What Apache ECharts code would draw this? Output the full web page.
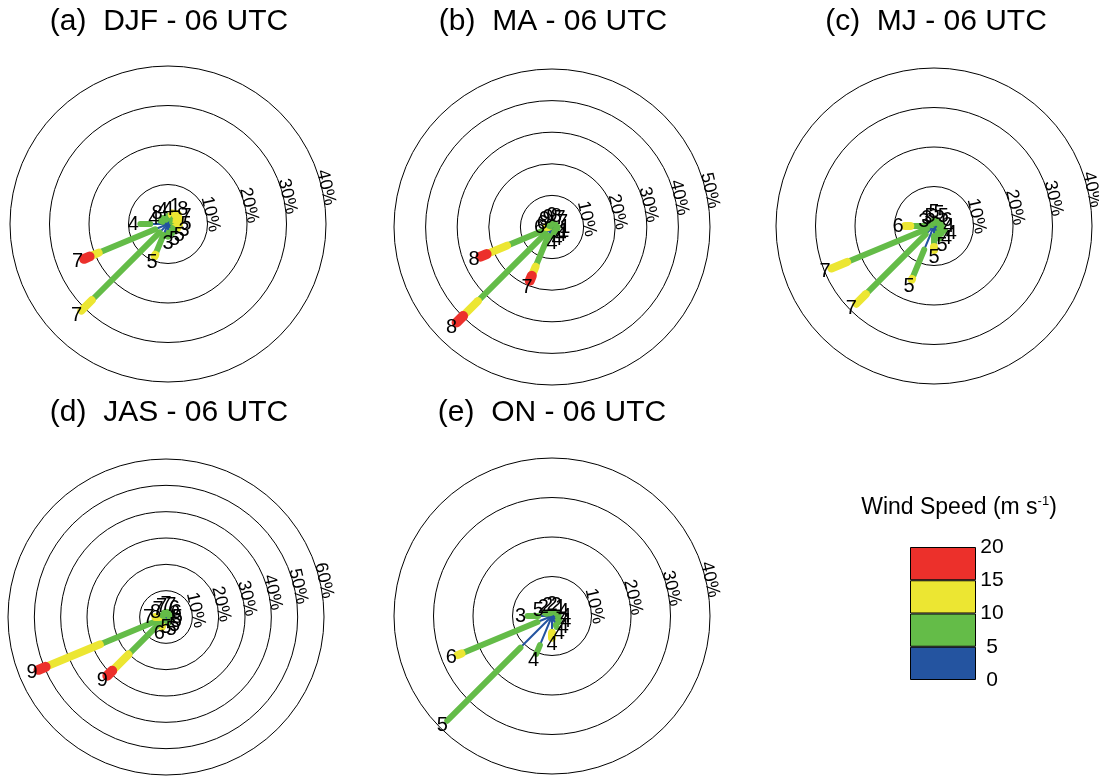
<!DOCTYPE html>
<html><head><meta charset="utf-8">
<script src="https://cdn.jsdelivr.net/npm/echarts@6/dist/echarts.min.js"></script>
<style>html,body{margin:0;padding:0;background:#fff}#c{width:1099px;height:776px}</style>
</head><body><div id="c"></div>
<script>
// ---------------- DATA ----------------
const panelTitles = ['(a)  DJF - 06 UTC', '(b)  MA - 06 UTC', '(c)  MJ - 06 UTC', '(d)  JAS - 06 UTC', '(e)  ON - 06 UTC'];
const speedBins = [0, 5, 10, 15, 20];
const ringsDJF = [10, 20, 30, 40];
const ringsMA = [10, 20, 30, 40, 50];
const ringsMJ = [10, 20, 30, 40];
const ringsJAS = [10, 20, 30, 40, 50, 60];
const ringsON = [10, 20, 30, 40];
// rows: [direction(deg), % 0-5, % 5-10, % 10-15, % 15-20, label]
const petalsDJF = [
  [0, 1.2, 0.8, 0, 0, 4], [22.5, 1.5, 1.0, 0.4, 0, 1], [45, 1.5, 1.4, 0.6, 0, 8], [67.5, 1.2, 1.2, 0.8, 0, 7],
  [90, 1.0, 1.0, 0.8, 0, 5], [112.5, 1.0, 1.0, 0.6, 0, 3], [135, 1.5, 0.8, 0, 0, 5], [157.5, 1.8, 0.8, 0, 0, 5],
  [180, 2.2, 1.0, 0, 0, 3], [202.5, 3.0, 5.4, 0.4, 0, 5], [225, 3.0, 24.3, 3.7, 0, 7], [247.5, 3.5, 15.5, 2.5, 1.5, 7],
  [270, 4.5, 2.5, 0, 0, 4], [292.5, 1.5, 0.6, 0, 0, 4], [315, 1.5, 0.6, 0, 0, 8], [337.5, 1.2, 0.6, 0, 0, 4]
];
const petalsMA = [
  [0, 0.8, 0.5, 0, 0, 9], [22.5, 0.8, 0.5, 0, 0, 8], [45, 0.8, 0.6, 0, 0, 7], [67.5, 0.8, 0.6, 0, 0, 7],
  [90, 1.0, 0.8, 0, 0, 1], [112.5, 1.0, 0.8, 0, 0, 1], [135, 1.0, 0.8, 0, 0, 4], [157.5, 1.2, 0.8, 0, 0, 4],
  [180, 1.5, 1.5, 0, 0, 4], [202.5, 3.0, 10.6, 3.1, 1.7, 7], [225, 3.0, 30.2, 6.6, 2.9, 8], [247.5, 2.5, 12.9, 7.0, 2.1, 8],
  [270, 0.6, 0.6, 0.5, 0, 6], [292.5, 0.6, 0.5, 0, 0, 6], [315, 0.6, 0.5, 0, 0, 9], [337.5, 0.6, 0.5, 0, 0, 9]
];
const petalsMJ = [
  [0, 1.0, 0.6, 0, 0, 5], [22.5, 1.0, 0.6, 0, 0, 5], [45, 1.0, 0.6, 0, 0, 5], [67.5, 1.0, 0.8, 0, 0, 6],
  [90, 1.2, 0.8, 0, 0, 4], [112.5, 1.5, 1.5, 0, 0, 4], [135, 1.5, 1.2, 0, 0, 4], [157.5, 2.0, 1.5, 0, 0, 5],
  [180, 2.5, 2.8, 0.8, 0, 5], [202.5, 6.5, 8.0, 0.2, 0, 5], [225, 3.0, 21.4, 3.4, 0, 7], [247.5, 2.0, 21.8, 4.3, 0, 7],
  [270, 1.5, 4.5, 1.3, 0, 6], [292.5, 0.6, 0.4, 0, 0, 3], [315, 0.5, 0.3, 0, 0, 3], [337.5, 0.6, 0.3, 0, 0, 5]
];
const petalsJAS = [
  [0, 1.2, 0.8, 0, 0, 7], [22.5, 1.2, 0.8, 0, 0, 7], [45, 1.0, 0.8, 0, 0, 6], [67.5, 1.0, 0.6, 0, 0, 6],
  [90, 1.0, 0.6, 0, 0, 5], [112.5, 1.0, 0.6, 0, 0, 5], [135, 1.2, 0.8, 0, 0, 5], [157.5, 1.5, 1.0, 0, 0, 5],
  [180, 0.8, 0.4, 0, 0, 5], [202.5, 2.0, 1.8, 0.3, 0, 6], [225, 2.0, 18.2, 8.7, 2.6, 9], [247.5, 2.0, 25.2, 22.3, 2.9, 9],
  [270, 1.0, 1.5, 1.5, 0, 7], [292.5, 0.8, 0.8, 0, 0, 8], [315, 0.8, 0.8, 0, 0, 7], [337.5, 1.0, 0.8, 0, 0, 7]
];
const petalsON = [
  [0, 0.8, 0.3, 0, 0, 2], [22.5, 0.8, 0.3, 0, 0, 2], [45, 1.0, 0.3, 0, 0, 1], [67.5, 1.0, 0.4, 0, 0, 4],
  [90, 1.2, 0.5, 0, 0, 4], [112.5, 1.5, 0.5, 0, 0, 4], [135, 1.8, 0.5, 0, 0, 4], [157.5, 2.5, 0.5, 0, 0, 4],
  [180, 4.0, 0.3, 1.2, 0, 4], [202.5, 8.0, 2.4, 0, 0, 4], [225, 11.3, 26.2, 0, 0, 5], [247.5, 4.0, 20.8, 1.0, 0, 6],
  [270, 3.5, 2.7, 0, 0, 3], [292.5, 1.5, 0.5, 0, 0, 5], [315, 1.0, 0.3, 0, 0, 2], [337.5, 0.8, 0.3, 0, 0, 2]
];

// ---------------- STYLE / LAYOUT ----------------
const FONT = '"Liberation Sans", Arial, Helvetica, sans-serif';
const binColors = ['#2454A0', '#64BC48', '#ECE632', '#EC302B'];
const binWidths = [2, 6, 8, 10];
const R = 158;
const panels = [
  { title: panelTitles[0], rings: ringsDJF, petals: petalsDJF, cx: 168, cy: 224, tx: 169, ty: 6 },
  { title: panelTitles[1], rings: ringsMA, petals: petalsMA, cx: 552, cy: 227, tx: 553, ty: 6 },
  { title: panelTitles[2], rings: ringsMJ, petals: petalsMJ, cx: 934, cy: 226, tx: 936, ty: 6 },
  { title: panelTitles[3], rings: ringsJAS, petals: petalsJAS, cx: 166, cy: 617, tx: 169, ty: 397 },
  { title: panelTitles[4], rings: ringsON, petals: petalsON, cx: 552, cy: 616, tx: 552, ty: 397 }
];
const RING_LABEL_ANGLE = 77;

const chart = echarts.init(document.getElementById('c'), null, { renderer: 'canvas' });

const option = {
  animation: false,
  backgroundColor: '#fff',
  title: [],
  polar: [], angleAxis: [], radiusAxis: [],
  grid: [{ left: 910, top: 547, width: 66, height: 133 }],
  xAxis: [{ type: 'category', data: ['ws'], show: false, gridIndex: 0 }],
  yAxis: [{
    type: 'value', gridIndex: 0, min: speedBins[0], max: speedBins[speedBins.length - 1], interval: 5, position: 'right',
    axisLine: { show: false }, axisTick: { show: false }, splitLine: { show: false },
    axisLabel: { margin: 16, align: 'center', fontSize: 21, color: '#000', fontFamily: FONT }
  }],
  series: []
};

panels.forEach((p, i) => {
  option.title.push({
    text: p.title, left: p.tx, top: p.ty, textAlign: 'center', padding: 0,
    textStyle: { fontSize: 30, fontWeight: 'normal', color: '#000', fontFamily: FONT, lineHeight: 32 }
  });
  const maxR = p.rings[p.rings.length - 1];
  option.polar.push({ center: [p.cx, p.cy], radius: R });
  option.angleAxis.push({
    polarIndex: i, type: 'value', min: 0, max: 360, startAngle: 90, clockwise: true,
    axisLine: { show: false }, axisTick: { show: false }, axisLabel: { show: false }, splitLine: { show: false }
  });
  option.radiusAxis.push({
    polarIndex: i, type: 'value', min: 0, max: maxR, interval: 10,
    axisLine: { show: false }, axisTick: { show: false }, axisLabel: { show: false },
    splitLine: { show: true, lineStyle: { color: '#000', width: 1 } }
  });
  const segs = [], labs = [];
  p.petals.forEach(row => {
    let acc = 0;
    for (let k = 0; k < 4; k++) {
      const f = row[1 + k];
      if (f > 0) segs.push([row[0], acc, acc + f, k]);
      acc += f;
    }
    labs.push([row[0], acc, row[5]]);
  });
  option.series.push({
    type: 'custom', coordinateSystem: 'polar', polarIndex: i, silent: true, z: 3,
    encode: { angle: 0, radius: 2 },
    data: segs,
    renderItem: (params, api) => {
      const ang = api.value(0), r0 = api.value(1), r1 = api.value(2), k = api.value(3);
      const a = api.coord([r0, ang]), b = api.coord([r1, ang]);
      return { type: 'line', shape: { x1: a[0], y1: a[1], x2: b[0], y2: b[1] },
        style: { stroke: binColors[k], lineWidth: binWidths[k], lineCap: 'round' } };
    }
  });
  option.series.push({
    type: 'custom', coordinateSystem: 'polar', polarIndex: i, silent: true, z: 4,
    encode: { angle: 0, radius: 1 },
    data: labs,
    renderItem: (params, api) => {
      const ang = api.value(0), r1 = api.value(1);
      const c = api.coord([0, ang]), b = api.coord([r1, ang]);
      const dx = b[0] - c[0], dy = b[1] - c[1];
      const L = Math.hypot(dx, dy) || 1;
      return { type: 'text', x: b[0] + dx / L * 7, y: b[1] + dy / L * 7,
        style: { text: String(api.value(2)), fontSize: 20, fontFamily: FONT, fill: '#000', align: 'center', verticalAlign: 'middle' } };
    }
  });
  option.series.push({
    type: 'custom', coordinateSystem: 'polar', polarIndex: i, silent: true, z: 4,
    encode: { radius: 0 },
    data: p.rings.map(v => [v]),
    renderItem: (params, api) => {
      const v = api.value(0);
      const c = api.coord([0, RING_LABEL_ANGLE]), b = api.coord([v, RING_LABEL_ANGLE]);
      const dx = b[0] - c[0], dy = b[1] - c[1];
      const L = Math.hypot(dx, dy) || 1;
      return { type: 'text', x: b[0] + dx / L * 4, y: b[1] + dy / L * 4, rotation: -RING_LABEL_ANGLE * Math.PI / 180,
        style: { text: v + '%', fontSize: 18, fontFamily: FONT, fill: '#000', align: 'center', verticalAlign: 'middle' } };
    }
  });
});

option.title.push({
  text: '{a|Wind Speed (m s}{s|-1}{a|)}', left: 959, top: 495, textAlign: 'center', padding: 0,
  textStyle: { fontWeight: 'normal', rich: {
    a: { fontSize: 23, fontFamily: FONT, color: '#000', lineHeight: 26, fontWeight: 'normal' },
    s: { fontSize: 13, fontFamily: FONT, color: '#000', lineHeight: 26, verticalAlign: 'top', fontWeight: 'normal' }
  } }
});

for (let k = 0; k < 4; k++) {
  option.series.push({
    type: 'bar', xAxisIndex: 0, yAxisIndex: 0, stack: 'ws', barWidth: '100%', silent: true,
    data: [speedBins[k + 1] - speedBins[k]],
    itemStyle: { color: binColors[k], borderColor: '#000', borderWidth: 1 }
  });
}

chart.setOption(option);
</script></body></html>
